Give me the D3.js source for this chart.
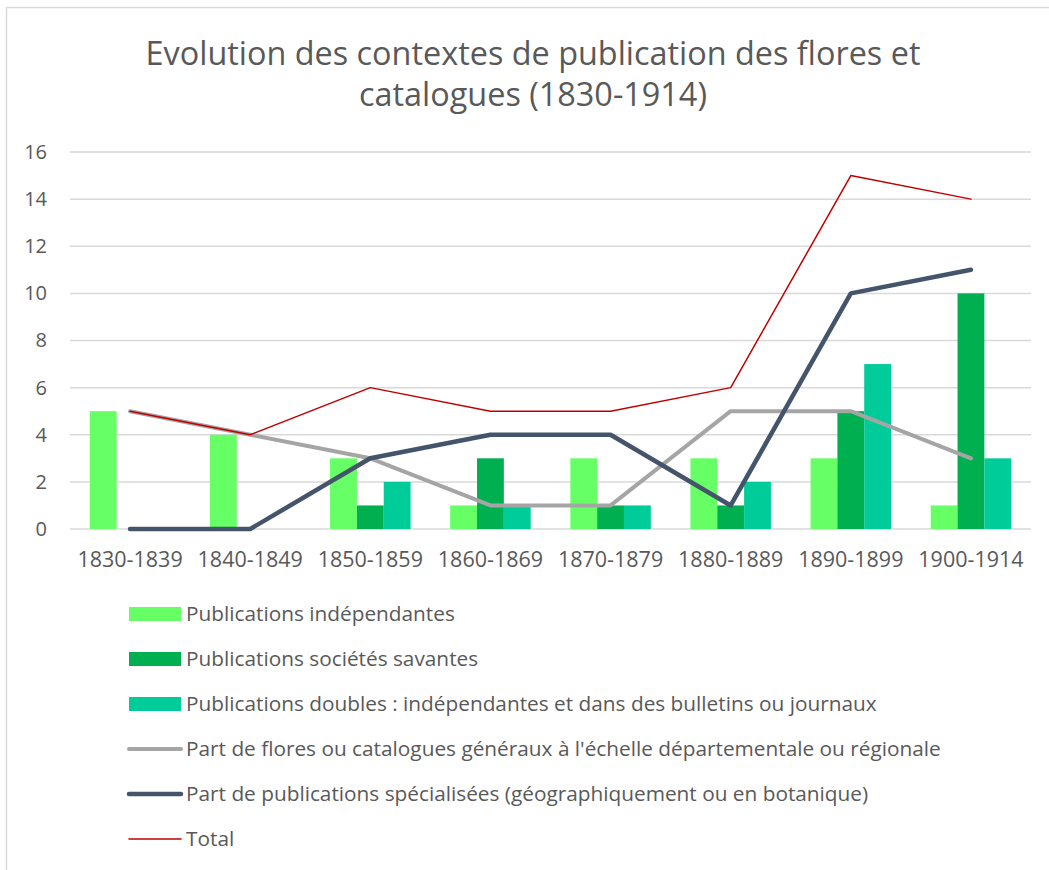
<!DOCTYPE html>
<html>
<head>
<meta charset="utf-8">
<script src="https://cdn.jsdelivr.net/npm/d3@7"></script>
<style>
  html, body { margin: 0; padding: 0; background: #fff; }
  svg { display: block; font-family: "Open Sans", Lato, sans-serif; }
</style>
</head>
<body>
<svg id="chart" width="1049" height="870"></svg>
<script>
// Decades on the x axis
const periods = ["1830-1839", "1840-1849", "1850-1859", "1860-1869", "1870-1879", "1880-1889", "1890-1899", "1900-1914"];

// Bar series
const independantes = [5, 4, 3, 1, 3, 3, 3, 1];
const societes = [0, 0, 1, 3, 1, 1, 5, 10];
const doubles = [0, 0, 2, 1, 1, 2, 7, 3];

// Line series
const flores = [5, 4, 3, 1, 1, 5, 5, 3];
const specialisees = [0, 0, 3, 4, 4, 1, 10, 11];
const total = [5, 4, 6, 5, 5, 6, 15, 14];

const yTicks = [0, 2, 4, 6, 8, 10, 12, 14, 16];

const titleLines = ["Evolution des contextes de publication des flores et", "catalogues (1830-1914)"];

const barSeries = [
  { name: "Publications indépendantes", values: independantes, color: "#66FF66" },
  { name: "Publications sociétés savantes", values: societes, color: "#00B050" },
  { name: "Publications doubles : indépendantes et dans des bulletins ou journaux", values: doubles, color: "#00CC99" }
];
const lineSeries = [
  { name: "Part de flores ou catalogues généraux à l'échelle départementale ou régionale", values: flores, color: "#A5A5A5", width: 4 },
  { name: "Part de publications spécialisées (géographiquement ou en botanique)", values: specialisees, color: "#44546A", width: 4.5 },
  { name: "Total", values: total, color: "#C00000", width: 1.5 }
];

const svg = d3.select("#chart");
const textColor = "#595959";
const font = "'Open Sans', Lato, sans-serif";

// Chart frame
svg.append("rect")
  .attr("x", 6.5).attr("y", 7.5)
  .attr("width", 1100).attr("height", 900)
  .attr("fill", "none").attr("stroke", "#D9D9D9").attr("stroke-width", 1.5);

// Title
svg.append("g").selectAll("text")
  .data(titleLines)
  .join("text")
  .attr("x", 533)
  .attr("y", (d, i) => 65 + i * 41)
  .attr("text-anchor", "middle")
  .attr("fill", textColor)
  .attr("font-size", 32.4)
  .text(d => d);

const plot = { left: 70, right: 1031, top: 152, bottom: 529 };

const x = d3.scaleBand().domain(periods).range([plot.left, plot.right]).paddingInner(0).paddingOuter(0);
const inner = d3.scaleBand().domain(d3.range(barSeries.length)).range([x.bandwidth() * 0.165, x.bandwidth() * 0.835]);
const y = d3.scaleLinear().domain([0, 16]).range([plot.bottom, plot.top]);

// Gridlines
svg.append("g").selectAll("line")
  .data(yTicks)
  .join("line")
  .attr("x1", plot.left).attr("x2", plot.right)
  .attr("y1", d => y(d)).attr("y2", d => y(d))
  .attr("stroke", "#D9D9D9").attr("stroke-width", 1.5);

// Y axis labels
const yAxis = d3.axisLeft(y).tickValues(yTicks).tickSize(0).tickPadding(0);
const yg = svg.append("g").attr("transform", `translate(47,0)`).call(yAxis);
yg.select(".domain").remove();
yg.selectAll("text").attr("font-size", 20).attr("fill", textColor).attr("font-family", font);

// X axis labels
const xAxis = d3.axisBottom(x).tickSize(0).tickPadding(0);
const xg = svg.append("g").attr("transform", `translate(0,552)`).call(xAxis);
xg.select(".domain").remove();
xg.selectAll("text").attr("font-size", 21.5).attr("fill", textColor).attr("font-family", font);

// Bars
barSeries.forEach((s, si) => {
  svg.append("g").selectAll("rect")
    .data(s.values.map((v, i) => ({ v, p: periods[i] })))
    .join("rect")
    .attr("x", d => x(d.p) + inner(si))
    .attr("width", inner.bandwidth())
    .attr("y", d => y(d.v))
    .attr("height", d => y(0) - y(d.v))
    .attr("fill", s.color);
});

// Lines
const line = d3.line()
  .x((d, i) => x(periods[i]) + x.bandwidth() / 2)
  .y(d => y(d));
lineSeries.forEach(s => {
  svg.append("path")
    .datum(s.values)
    .attr("d", line)
    .attr("fill", "none")
    .attr("stroke", s.color)
    .attr("stroke-width", s.width)
    .attr("stroke-linejoin", "round")
    .attr("stroke-linecap", "round");
});

// Legend
const legendItems = [
  ...barSeries.map(s => ({ ...s, type: "bar" })),
  ...lineSeries.map(s => ({ ...s, type: "line" }))
];
const lg = svg.append("g").selectAll("g")
  .data(legendItems)
  .join("g")
  .attr("transform", (d, i) => `translate(129,${614 + i * 45})`);
lg.filter(d => d.type === "bar").append("rect")
  .attr("x", 0).attr("y", -7).attr("width", 52).attr("height", 14)
  .attr("fill", d => d.color);
lg.filter(d => d.type === "line").append("line")
  .attr("x1", 0).attr("x2", 52).attr("y1", 0).attr("y2", 0)
  .attr("stroke", d => d.color)
  .attr("stroke-width", d => d.width)
  .attr("stroke-linecap", "round");
lg.append("text")
  .attr("x", 57).attr("y", 0).attr("dy", "0.35em")
  .attr("font-size", 20.8).attr("fill", textColor)
  .text(d => d.name);
</script>
</body>
</html>
